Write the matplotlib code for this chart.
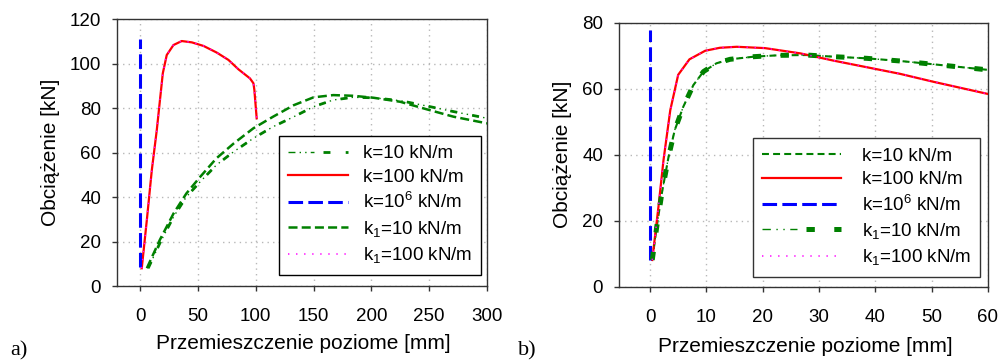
import matplotlib
matplotlib.use("Agg")
import matplotlib.pyplot as plt
from matplotlib.legend_handler import HandlerTuple

plt.rcParams["font.family"] = ["Liberation Sans", "DejaVu Sans"]
plt.rcParams["mathtext.fontset"] = "custom"
plt.rcParams["mathtext.rm"] = "Liberation Sans"
plt.rcParams["mathtext.it"] = "Liberation Sans:italic"
plt.rcParams["mathtext.default"] = "regular"
plt.rcParams["lines.scale_dashes"] = False

# ---------------- panel a) data ----------------
a_k10_x = [7, 17, 29, 40, 52, 66, 81, 98, 115, 133, 150, 167, 184, 202, 225, 248, 271, 300]
a_k10_y = [8, 19.2, 31.2, 40.1, 46.9, 54.4, 60.4, 66.4, 71.6, 76.1, 80.6, 83.6, 84.8, 84.6, 83.3, 80.9, 78.4, 75.4]

a_k100_x = [1.4, 5.8, 10.1, 14.4, 19.6, 23, 28.8, 36, 44.7, 54.8, 66.3, 76.4, 85, 95, 98, 98.8, 100.8]
a_k100_y = [8, 29.7, 52.1, 70.1, 95.6, 103.8, 108.3, 110.1, 109.5, 107.9, 104.9, 101.6, 97.4, 93.3, 91.1, 88.1, 75.4]

a_k1e6_x = [0, 0]
a_k1e6_y = [8.5, 111]

a_k1_10_x = [5.8, 17, 29, 40, 52, 66, 81, 98, 115, 133, 150, 167, 184, 202, 225, 248, 271, 300]
a_k1_10_y = [8, 20.7, 32.7, 41.6, 49.1, 57.4, 64.1, 70.9, 76.1, 81.3, 84.8, 85.8, 85.5, 84.6, 82.8, 79.4, 76.1, 73.1]

a_k1_100_x = a_k100_x
a_k1_100_y = a_k100_y

# ---------------- panel b) data ----------------
b_k10_x = [0.4, 1.2, 2.1, 3.3, 4.4, 5.9, 7.7, 9.5, 11.8, 14.2, 18.4, 22.5, 27.8, 32.6, 38.5, 44.4, 50.3, 60]
b_k10_y = [8.1, 18.2, 28.3, 39.4, 47.5, 54.5, 61.1, 65.2, 67.7, 68.9, 69.7, 70.1, 70.2, 69.7, 69.2, 68.4, 67.4, 65.7]

b_k100_x = [0.4, 1.5, 2.4, 3.6, 5.0, 7.0, 9.8, 12.4, 15.4, 20.4, 26.7, 32.6, 38.5, 44.4, 50.3, 60]
b_k100_y = [8.1, 24.2, 38.4, 53.5, 64.2, 68.9, 71.5, 72.4, 72.7, 72.3, 70.7, 68.5, 66.5, 64.5, 62.1, 58.4]

b_k1e6_x = [0, 0]
b_k1e6_y = [8.1, 77.8]

b_k1_10_x = b_k10_x
b_k1_10_y = b_k10_y

b_k1_100_x = b_k100_x
b_k1_100_y = b_k100_y

labels = ["k=10 kN/m", "k=100 kN/m", r"k=10$^{6}$ kN/m", r"k$_{1}$=10 kN/m", r"k$_{1}$=100 kN/m"]

GREEN = "#008000"
RED = "#ff0000"
BLUE = "#0000ff"
MAGENTA = "#ff00ff"
FS = 13.5
LABEL_FS = 15


def dash_dot_dot(ax, x, y, lw_thick, lw_thin, dash, gap, dot):
    """Thick dashes with thin dots in between."""
    period = dash + 3 * gap + 2 * dot
    thin, = ax.plot(x, y, color=GREEN, lw=lw_thin,
                    dashes=(dash, gap, dot, gap, dot, gap), zorder=3)
    thick, = ax.plot(x, y, color=GREEN, lw=lw_thick, solid_capstyle="butt",
                     dashes=(dash, period - dash), zorder=3)
    return (thin, thick)


def style_axes(ax, xlim, xticks, ylim, yticks):
    ax.set_xlim(*xlim)
    ax.set_ylim(*ylim)
    ax.set_xticks(xticks)
    ax.set_yticks(yticks)
    ax.grid(True, color="#b8b8b8", linestyle=(0, (1, 3)), linewidth=1.0)
    ax.set_axisbelow(True)
    ax.tick_params(direction="out", length=3.5, width=1, labelsize=FS,
                   colors="#333333", labelcolor="black")
    ax.tick_params(axis="x", pad=12.5)
    ax.tick_params(axis="y", pad=8)
    for s in ax.spines.values():
        s.set_color("#333333")
        s.set_linewidth(1.0)
    ax.set_xlabel("Przemieszczenie poziome [mm]", fontsize=LABEL_FS)
    ax.set_ylabel("Obciążenie [kN]", fontsize=LABEL_FS)


def add_legend(ax, handles, anchor, edge, handlelength, handletextpad):
    leg = ax.legend(handles, labels, loc="upper left",
                    bbox_to_anchor=anchor, borderaxespad=0,
                    handler_map={tuple: HandlerTuple(ndivide=None)},
                    fontsize=FS, frameon=True, fancybox=False, framealpha=1,
                    edgecolor=edge, handlelength=handlelength,
                    handletextpad=handletextpad,
                    labelspacing=0.34, borderpad=0.5)
    leg.get_frame().set_linewidth(1.0)
    return leg


fig = plt.figure(figsize=(10.01, 3.62), dpi=100)

# ---------------- panel a) ----------------
axa = fig.add_axes([0.1169, 0.2099, 0.3696, 0.7376])
style_axes(axa, (-20, 300), range(0, 301, 50), (0, 120), range(0, 121, 20))

ha1 = dash_dot_dot(axa, a_k10_x, a_k10_y, 2.0, 1.0, 5, 3, 1)
ha2, = axa.plot(a_k100_x, a_k100_y, color=RED, lw=1.6, zorder=3)
ha3, = axa.plot(a_k1e6_x, a_k1e6_y, color=BLUE, lw=2.2, dashes=(10.5, 3.8), zorder=3)
ha4, = axa.plot(a_k1_10_x, a_k1_10_y, color=GREEN, lw=1.8, dashes=(6.5, 3), zorder=3)
ha5, = axa.plot(a_k1_100_x, a_k1_100_y, color=MAGENTA, lw=1.1, dashes=(1, 4.8), zorder=4)

axa.xaxis.set_label_coords(0.504, -0.178)
axa.yaxis.set_label_coords(-0.155, 0.5)

add_legend(axa, [ha1, ha2, ha3, ha4, ha5], (0.438, 0.562), "black", 3.2, 0.75)

# ---------------- panel b) ----------------
axb = fig.add_axes([0.6184, 0.208, 0.3686, 0.7293])
style_axes(axb, (-5.5, 60), range(0, 61, 10), (0, 80), range(0, 81, 20))

hb1, = axb.plot(b_k10_x, b_k10_y, color=GREEN, lw=1.5, dashes=(5, 3), zorder=3)
hb2, = axb.plot(b_k100_x, b_k100_y, color=RED, lw=1.6, zorder=3)
hb3, = axb.plot(b_k1e6_x, b_k1e6_y, color=BLUE, lw=2.2, dashes=(10.5, 3.8), zorder=3)
hb4 = dash_dot_dot(axb, b_k1_10_x, b_k1_10_y, 3.6, 1.0, 6, 4, 1)
hb5, = axb.plot(b_k1_100_x, b_k1_100_y, color=MAGENTA, lw=1.1, dashes=(1, 4.8), zorder=4)

axb.xaxis.set_label_coords(0.504, -0.19)
axb.yaxis.set_label_coords(-0.127, 0.5)

add_legend(axb, [hb1, hb2, hb3, hb4, hb5], (0.363, 0.563), "#333333", 4.2, 1.1)

# panel letters
fig.text(0.010, 0.018, "a)", family="Liberation Serif", fontsize=16)
fig.text(0.517, 0.018, "b)", family="Liberation Serif", fontsize=16)

fig.savefig("out.png", dpi=100)
